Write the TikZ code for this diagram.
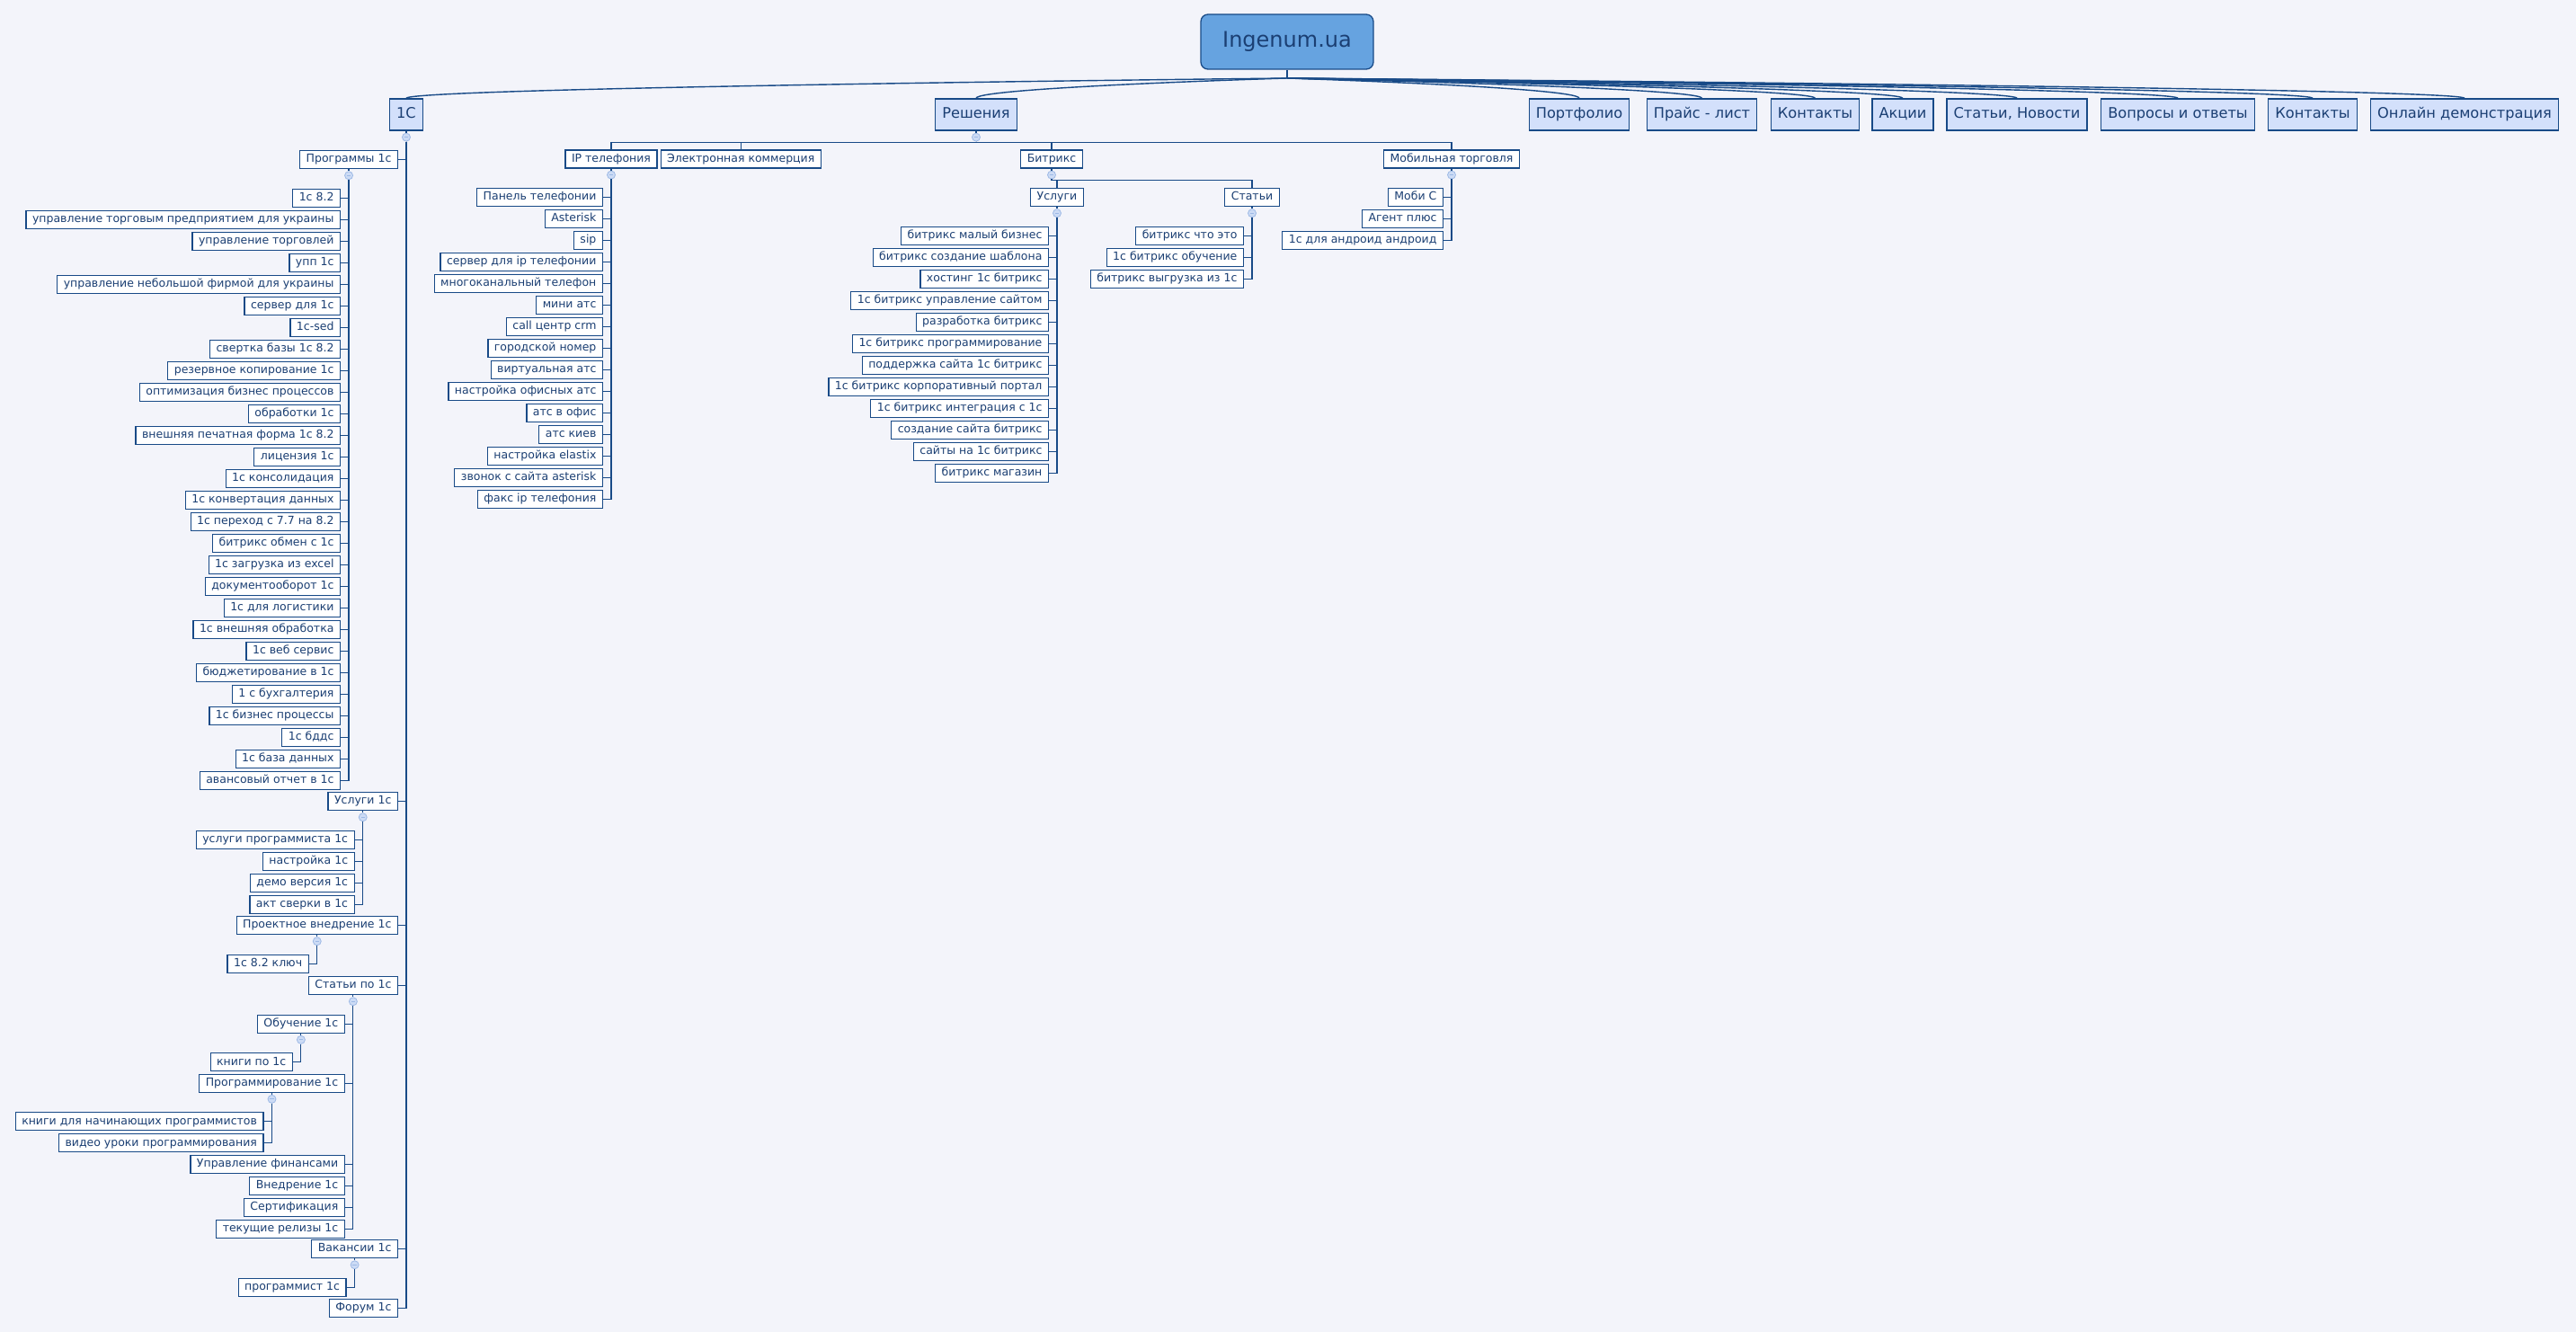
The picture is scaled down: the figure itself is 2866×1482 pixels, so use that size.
\documentclass[tikz,border=0pt]{standalone}
\usepackage{fontspec}
\setmainfont{DejaVu Sans}
\usetikzlibrary{calc,positioning}
\definecolor{mapbg}{HTML}{F3F4FA}
\definecolor{mapline}{HTML}{184A87}
\definecolor{maptext}{HTML}{1B3F73}
\definecolor{topfill}{HTML}{D3E0FB}
\definecolor{rootfill}{HTML}{66A3E0}
\definecolor{foldfill}{HTML}{CCDBF5}
\definecolor{foldline}{HTML}{9DB9E5}

\begin{document}
\begin{tikzpicture}[x=1pt,y=-1pt,
  link/.style={draw=mapline,line width=1.2pt},
  leaf/.style={draw=mapline,fill=white,line width=1.2pt,text=maptext,
    font=\fontsize{12.5}{15}\selectfont,inner xsep=7pt,inner ysep=4pt,
    text height=9.3pt,text depth=2.7pt},
  topic/.style={draw=mapline,fill=topfill,line width=1.3pt,text=maptext,
    font=\fontsize{16.2}{19}\selectfont,inner xsep=7.5pt,minimum height=35pt,
    text height=12pt,text depth=3.5pt},
  root/.style={draw=mapline,fill=rootfill,line width=1.3pt,text=maptext,
    rounded corners=8pt,font=\fontsize{24}{28}\selectfont,
    minimum width=192pt,minimum height=61pt},
  fold/.style={circle,draw=foldline,fill=foldfill,line width=0.8pt,
    inner sep=0pt,minimum size=9pt,
    path picture={\draw[foldline,line width=1pt]
      ([xshift=-2.2pt]path picture bounding box.center) --
      ([xshift=2.2pt]path picture bounding box.center);}}]
\useasboundingbox (0,0) rectangle (2866,1482);
\fill[mapbg] (0,0) rectangle (2866,1482);

% centre and main topics
\node[root] (root) at (1432,46.5) {Ingenum.ua};
\coordinate (hub) at (1432,87);
\draw[link] (root.south) -- (hub);
\node[topic] (c1) at (452,127.5) {1С};
\node[topic] (resh) at (1086,127.5) {Решения};
\node[topic] (port) at (1757,127.5) {Портфолио};
\node[topic] (price) at (1893.5,127.5) {Прайс - лист};
\node[topic] (cont) at (2019.5,127.5) {Контакты};
\node[topic] (promo) at (2117,127.5) {Акции};
\node[topic] (news) at (2244,127.5) {Статьи, Новости};
\node[topic] (faq) at (2423,127.5) {Вопросы и ответы};
\node[topic] (cont2) at (2573,127.5) {Контакты};
\node[topic] (demo) at (2742,127.5) {Онлайн демонстрация};
\foreach \n in {c1,resh,port,price,cont,promo,news,faq,cont2,demo}
  \draw[link,line width=1.4pt] (hub) .. controls (hub) and ($(\n.north)+(0,-12)$) .. (\n.north);

% 1C branch
\node[fold] (c1-f) at ([yshift=-7pt]c1.south) {};
\draw[link] (c1) -- (c1-f);
\foreach \n/\d/\t in {prog/25/Программы 1с,%
    serv/739/Услуги 1с,%
    proj/877/Проектное внедрение 1с,%
    art/944/Статьи по 1с,%
    vac/1237/Вакансии 1с,%
    forum/1303/Форум 1с}{
  \node[leaf,anchor=east] (\n) at ($(c1-f)+(-9,\d)$) {\t};
  \draw[link] (c1-f) |- (\n.east);
}

\node[fold] (prog-f) at ([yshift=-7pt]prog.south) {};
\draw[link] (prog) -- (prog-f);
\foreach \t [count=\i from 0] in {1с 8.2,%
    управление торговым предприятием для украины,%
    управление торговлей,%
    упп 1с,%
    управление небольшой фирмой для украины,%
    сервер для 1с,%
    1с-sed,%
    свертка базы 1с 8.2,%
    резервное копирование 1с,%
    оптимизация бизнес процессов,%
    обработки 1с,%
    внешняя печатная форма 1с 8.2,%
    лицензия 1с,%
    1с консолидация,%
    1с конвертация данных,%
    1с переход с 7.7 на 8.2,%
    битрикс обмен с 1с,%
    1с загрузка из excel,%
    документооборот 1с,%
    1с для логистики,%
    1с внешняя обработка,%
    1с веб сервис,%
    бюджетирование в 1с,%
    1 с бухгалтерия,%
    1с бизнес процессы,%
    1с бддс,%
    1с база данных,%
    авансовый отчет в 1с}{
  \node[leaf,anchor=east] (prog-\i) at ($(prog-f)+(-9,25+24*\i)$) {\t};
  \draw[link] (prog-f) |- (prog-\i.east);
}

\node[fold] (serv-f) at ([yshift=-7pt]serv.south) {};
\draw[link] (serv) -- (serv-f);
\foreach \t [count=\i from 0] in {услуги программиста 1с,%
    настройка 1с,%
    демо версия 1с,%
    акт сверки в 1с}{
  \node[leaf,anchor=east] (serv-\i) at ($(serv-f)+(-9,25+24*\i)$) {\t};
  \draw[link] (serv-f) |- (serv-\i.east);
}

\node[fold] (proj-f) at ([yshift=-7pt]proj.south) {};
\draw[link] (proj) -- (proj-f);
\node[leaf,anchor=east] (proj-0) at ($(proj-f)+(-9,25)$) {1с 8.2 ключ};
\draw[link] (proj-f) |- (proj-0.east);

\node[fold] (art-f) at ([yshift=-7pt]art.south) {};
\draw[link] (art) -- (art-f);
\foreach \n/\d/\t in {learn/25/Обучение 1с,%
    code/91/Программирование 1с,%
    fin/181/Управление финансами,%
    impl/205/Внедрение 1с,%
    cert/229/Сертификация,%
    rel/253/текущие релизы 1с}{
  \node[leaf,anchor=east] (\n) at ($(art-f)+(-9,\d)$) {\t};
  \draw[link] (art-f) |- (\n.east);
}
\node[fold] (learn-f) at ([yshift=-7pt]learn.south) {};
\draw[link] (learn) -- (learn-f);
\node[leaf,anchor=east] (learn-0) at ($(learn-f)+(-9,25)$) {книги по 1с};
\draw[link] (learn-f) |- (learn-0.east);
\node[fold] (code-f) at ([yshift=-7pt]code.south) {};
\draw[link] (code) -- (code-f);
\node[leaf,anchor=east] (code-0) at ($(code-f)+(-9,25)$) {книги для начинающих программистов};
\node[leaf,anchor=east] (code-1) at ($(code-f)+(-9,49)$) {видео уроки программирования};
\draw[link] (code-f) |- (code-0.east);
\draw[link] (code-f) |- (code-1.east);

\node[fold] (vac-f) at ([yshift=-7pt]vac.south) {};
\draw[link] (vac) -- (vac-f);
\node[leaf,anchor=east] (vac-0) at ($(vac-f)+(-9,25)$) {программист 1с};
\draw[link] (vac-f) |- (vac-0.east);

% solutions branch
\node[fold] (resh-f) at ([yshift=-7pt]resh.south) {};
\draw[link] (resh) -- (resh-f);
\coordinate (resh-bus) at ($(resh-f)+(0,6)$);
\node[leaf] (ip) at (680,177) {IP телефония};
\node[leaf,right=3pt of ip] (ecom) {Электронная коммерция};
\node[leaf] (btx) at (1170,177) {Битрикс};
\node[leaf] (mob) at (1615,177) {Мобильная торговля};
\foreach \n in {ip,ecom,btx,mob}
  \draw[link] (resh-f) -- (resh-bus) -| (\n.north);

\node[fold] (ip-f) at ([yshift=-7pt]ip.south) {};
\draw[link] (ip) -- (ip-f);
\foreach \t [count=\i from 0] in {Панель телефонии,%
    Asterisk,%
    sip,%
    сервер для ip телефонии,%
    многоканальный телефон,%
    мини атс,%
    call центр crm,%
    городской номер,%
    виртуальная атс,%
    настройка офисных атс,%
    атс в офис,%
    атс киев,%
    настройка elastix,%
    звонок с сайта asterisk,%
    факс ip телефония}{
  \node[leaf,anchor=east] (ip-\i) at ($(ip-f)+(-9,25+24*\i)$) {\t};
  \draw[link] (ip-f) |- (ip-\i.east);
}

\node[fold] (btx-f) at ([yshift=-7pt]btx.south) {};
\draw[link] (btx) -- (btx-f);
\coordinate (btx-bus) at ($(btx-f)+(0,6)$);
\node[leaf] (bsrv) at ($(btx-f)+(6,25)$) {Услуги};
\node[leaf] (bart) at ($(btx-f)+(223,25)$) {Статьи};
\foreach \n in {bsrv,bart}
  \draw[link] (btx-f) -- (btx-bus) -| (\n.north);

\node[fold] (bsrv-f) at ([yshift=-7pt]bsrv.south) {};
\draw[link] (bsrv) -- (bsrv-f);
\foreach \t [count=\i from 0] in {битрикс малый бизнес,%
    битрикс создание шаблона,%
    хостинг 1с битрикс,%
    1с битрикс управление сайтом,%
    разработка битрикс,%
    1с битрикс программирование,%
    поддержка сайта 1с битрикс,%
    1с битрикс корпоративный портал,%
    1с битрикс интеграция с 1с,%
    создание сайта битрикс,%
    сайты на 1с битрикс,%
    битрикс магазин}{
  \node[leaf,anchor=east] (bsrv-\i) at ($(bsrv-f)+(-9,25+24*\i)$) {\t};
  \draw[link] (bsrv-f) |- (bsrv-\i.east);
}

\node[fold] (bart-f) at ([yshift=-7pt]bart.south) {};
\draw[link] (bart) -- (bart-f);
\foreach \t [count=\i from 0] in {битрикс что это,%
    1с битрикс обучение,%
    битрикс выгрузка из 1с}{
  \node[leaf,anchor=east] (bart-\i) at ($(bart-f)+(-9,25+24*\i)$) {\t};
  \draw[link] (bart-f) |- (bart-\i.east);
}

\node[fold] (mob-f) at ([yshift=-7pt]mob.south) {};
\draw[link] (mob) -- (mob-f);
\foreach \t [count=\i from 0] in {Моби С,%
    Агент плюс,%
    1с для андроид андроид}{
  \node[leaf,anchor=east] (mob-\i) at ($(mob-f)+(-9,25+24*\i)$) {\t};
  \draw[link] (mob-f) |- (mob-\i.east);
}
\end{tikzpicture}
\end{document}
